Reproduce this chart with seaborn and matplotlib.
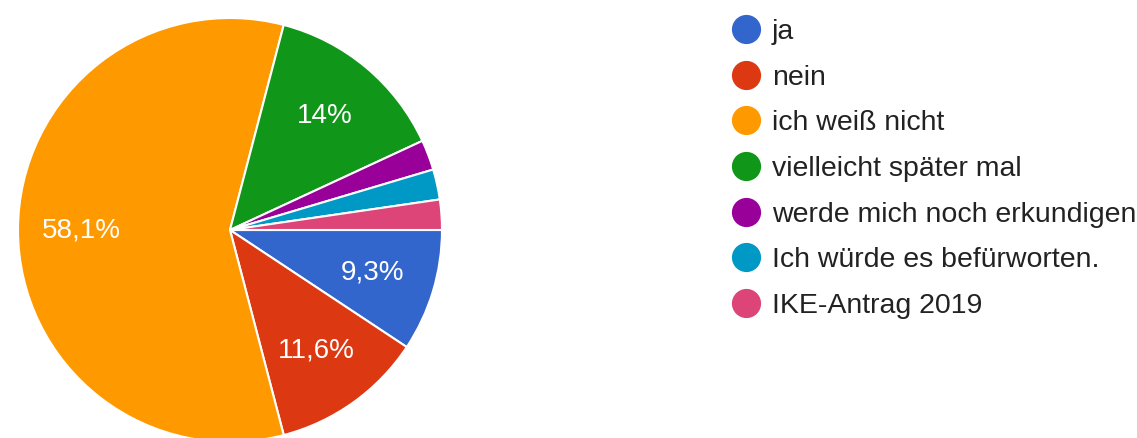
import matplotlib
matplotlib.use("Agg")
import matplotlib.pyplot as plt
from matplotlib.lines import Line2D
import seaborn as sns

# Survey answers and their share of responses (percent)
answers = [
    "ja",
    "nein",
    "ich weiß nicht",
    "vielleicht später mal",
    "werde mich noch erkundigen",
    "Ich würde es befürworten.",
    "IKE-Antrag 2019",
]
shares = [9.3, 11.6, 58.1, 14.0, 2.3, 2.3, 2.3]
colors = ["#3366CC", "#DC3912", "#FF9900", "#109618", "#990099", "#0099C6", "#DD4477"]

sns.set_theme(style="white")
plt.rcParams["font.family"] = ["Liberation Sans", "DejaVu Sans"]


def pct_label(v):
    # small slices stay unlabeled; German decimal comma, drop trailing ",0"
    if v < 5:
        return ""
    s = f"{v:.1f}".rstrip("0").rstrip(".")
    return s.replace(".", ",") + "%"


W, H = 1137, 438
fig = plt.figure(figsize=(W / 100, H / 100), dpi=100)
fig.patch.set_facecolor("white")

# pie centred at (230, 230) px with radius ~212 px
cx, cy, r = 230, 230, 212
ax = fig.add_axes([(cx - r) / W, (H - cy - r) / H, 2 * r / W, 2 * r / H])
wedges, texts = ax.pie(
    shares,
    colors=colors,
    labels=[pct_label(v) for v in shares],
    labeldistance=0.70,
    startangle=0,
    counterclock=False,
    wedgeprops=dict(edgecolor="white", linewidth=1.5),
    textprops=dict(color="white", fontsize=20),
)
for t in texts:
    t.set_ha("center")
    t.set_va("center")
ax.set_aspect("equal")
ax.set_xlim(-1, 1)
ax.set_ylim(-1, 1)
ax.axis("off")

handles = [
    Line2D([], [], marker="o", linestyle="none", markersize=20,
           markerfacecolor=c, markeredgecolor=c)
    for c in colors
]
fig.legend(
    handles, answers,
    loc="upper left",
    bbox_to_anchor=(732 / W, 1 - 19 / H),
    bbox_transform=fig.transFigure,
    frameon=False,
    borderpad=0,
    borderaxespad=0,
    handlelength=1.0,
    handletextpad=0.4,
    labelspacing=0.69,
    fontsize=20.5,
    labelcolor="#222222",
)

fig.savefig("out.png", dpi=100, facecolor="white")
